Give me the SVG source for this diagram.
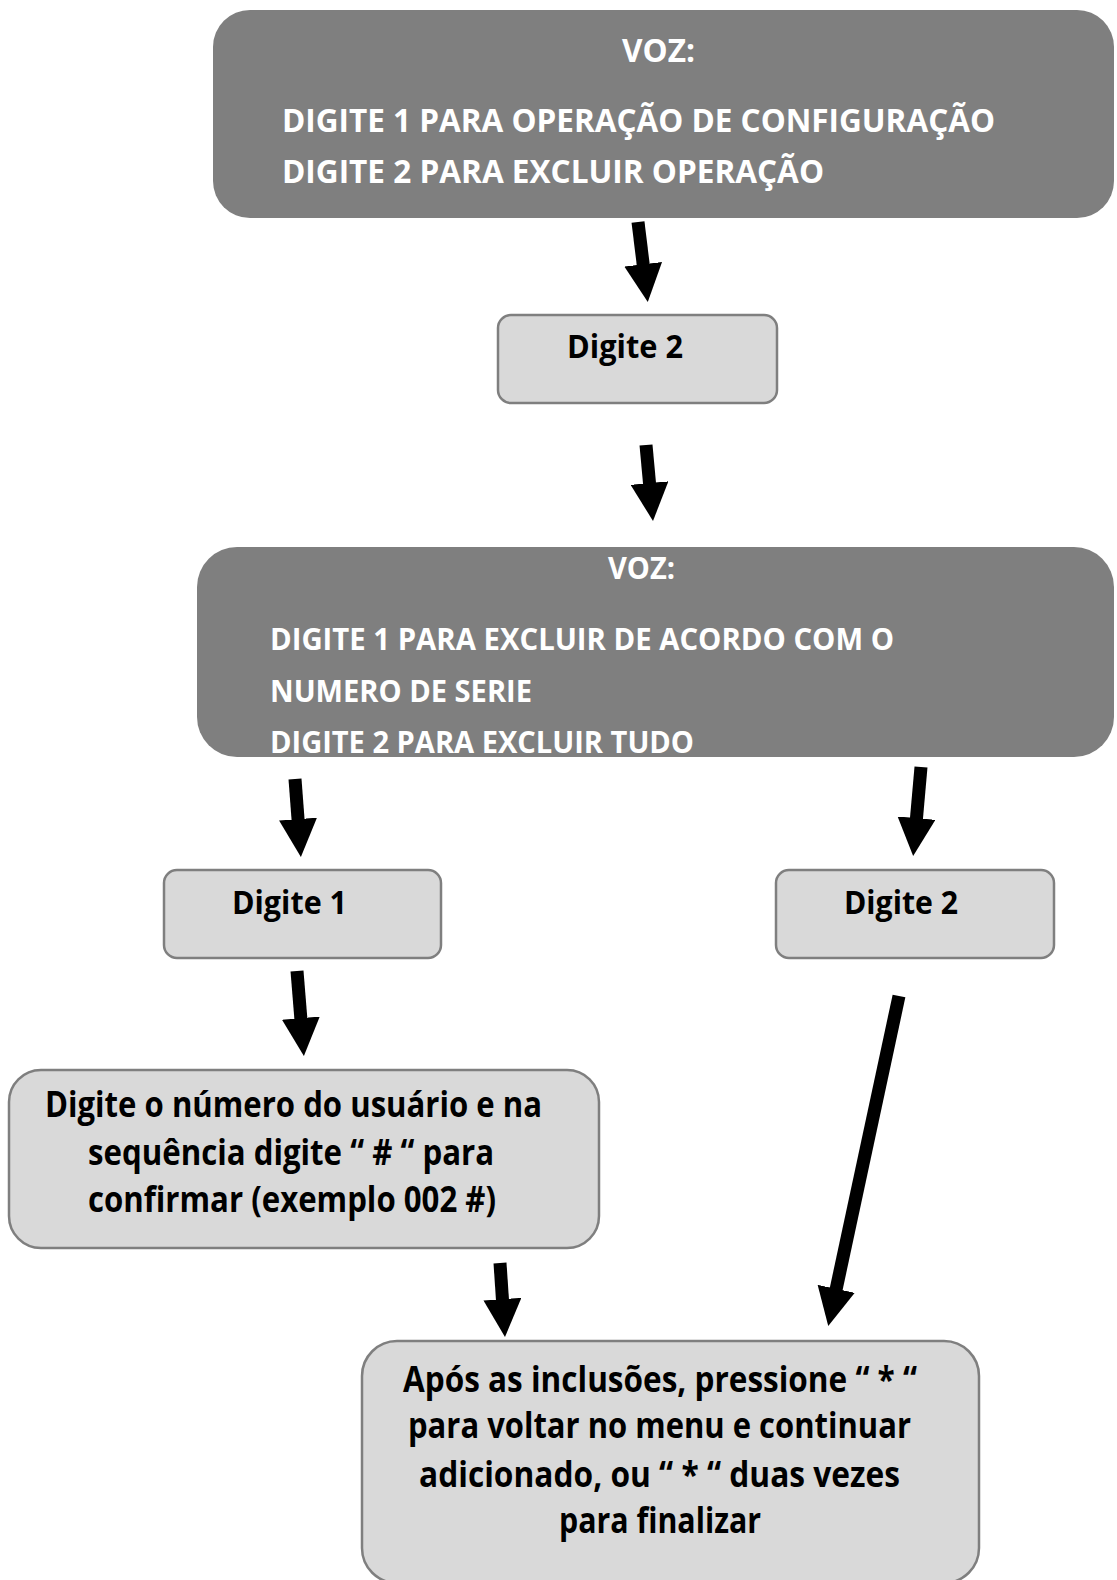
<svg xmlns="http://www.w3.org/2000/svg" width="1117" height="1580" viewBox="0 0 1117 1580">
<style>
.dark{fill:#7f7f7f;stroke:none}
.light{fill:#d9d9d9;stroke:#7f7f7f;stroke-width:2.5}
.tw{font-family:"Open Sans","Liberation Sans",sans-serif;font-weight:700;fill:#ffffff}
.tb{font-family:"Open Sans","Liberation Sans",sans-serif;font-weight:700;fill:#000000}
.arr{stroke:#000;stroke-width:13;fill:none;marker-end:url(#head)}
</style>
<defs>
<marker id="head" viewBox="0 0 38 38" refX="1" refY="19" markerWidth="38" markerHeight="38" markerUnits="userSpaceOnUse" orient="auto">
<path d="M0,0 L38,19 L0,38 z" fill="#000"/>
</marker>
</defs>
<rect width="1117" height="1580" fill="#fff"/>
<g id="n-voz1">
<rect class="dark" x="213" y="10" width="901" height="208" rx="37"/>
<text class="tw" x="622" y="62" font-size="32" textLength="73" lengthAdjust="spacingAndGlyphs">VOZ:</text>
<text class="tw" x="282" y="132" font-size="32" textLength="713" lengthAdjust="spacingAndGlyphs">DIGITE 1 PARA OPERAÇÃO DE CONFIGURAÇÃO</text>
<text class="tw" x="282" y="183" font-size="32" textLength="542" lengthAdjust="spacingAndGlyphs">DIGITE 2 PARA EXCLUIR OPERAÇÃO</text>
</g>
<g id="n-digite2a">
<rect class="light" x="498" y="315" width="279" height="88" rx="13"/>
<text class="tb" x="567" y="358" font-size="33" textLength="116" lengthAdjust="spacingAndGlyphs">Digite 2</text>
</g>
<g id="n-voz2">
<rect class="dark" x="197" y="547" width="917" height="210" rx="40"/>
<text class="tw" x="608" y="579" font-size="30" textLength="67" lengthAdjust="spacingAndGlyphs">VOZ:</text>
<text class="tw" x="270" y="650" font-size="30" textLength="624" lengthAdjust="spacingAndGlyphs">DIGITE 1 PARA EXCLUIR DE ACORDO COM O</text>
<text class="tw" x="270" y="702" font-size="30" textLength="262" lengthAdjust="spacingAndGlyphs">NUMERO DE SERIE</text>
<text class="tw" x="270" y="753" font-size="30" textLength="424" lengthAdjust="spacingAndGlyphs">DIGITE 2 PARA EXCLUIR TUDO</text>
</g>
<g id="n-digite1">
<rect class="light" x="164" y="870" width="277" height="88" rx="13"/>
<text class="tb" x="232" y="914" font-size="33" textLength="115" lengthAdjust="spacingAndGlyphs">Digite 1</text>
</g>
<g id="n-digite2b">
<rect class="light" x="776" y="870" width="278" height="88" rx="13"/>
<text class="tb" x="844" y="914" font-size="33" textLength="114" lengthAdjust="spacingAndGlyphs">Digite 2</text>
</g>
<g id="n-numero">
<rect class="light" x="9" y="1070" width="590" height="178" rx="32"/>
<text class="tb" x="45" y="1117" font-size="35" textLength="497" lengthAdjust="spacingAndGlyphs">Digite o número do usuário e na</text>
<text class="tb" x="88" y="1165" font-size="35" textLength="406" lengthAdjust="spacingAndGlyphs">sequência digite “ # “ para</text>
<text class="tb" x="88" y="1212" font-size="35" textLength="408" lengthAdjust="spacingAndGlyphs">confirmar (exemplo 002 #)</text>
</g>
<g id="n-final">
<rect class="light" x="362" y="1341" width="617" height="242" rx="35"/>
<text class="tb" x="403" y="1392" font-size="35" textLength="514" lengthAdjust="spacingAndGlyphs">Após as inclusões, pressione “ * “</text>
<text class="tb" x="408" y="1438" font-size="35" textLength="503" lengthAdjust="spacingAndGlyphs">para voltar no menu e continuar</text>
<text class="tb" x="419" y="1487" font-size="35" textLength="481" lengthAdjust="spacingAndGlyphs">adicionado, ou “ * “ duas vezes</text>
<text class="tb" x="559" y="1533" font-size="35" textLength="202" lengthAdjust="spacingAndGlyphs">para finalizar</text>
</g>
<g id="connectors">
<line class="arr" x1="638" y1="222" x2="643.3" y2="265.3"/>
<line class="arr" x1="646" y1="445" x2="649.6" y2="484.1"/>
<line class="arr" x1="295" y1="779" x2="298.1" y2="820.1"/>
<line class="arr" x1="921" y1="767" x2="916.4" y2="819.1"/>
<line class="arr" x1="297" y1="971" x2="300.9" y2="1019.1"/>
<line class="arr" x1="899" y1="996" x2="836.0" y2="1289.8"/>
<line class="arr" x1="500" y1="1263" x2="502.5" y2="1300.1"/>
</g>
</svg>
